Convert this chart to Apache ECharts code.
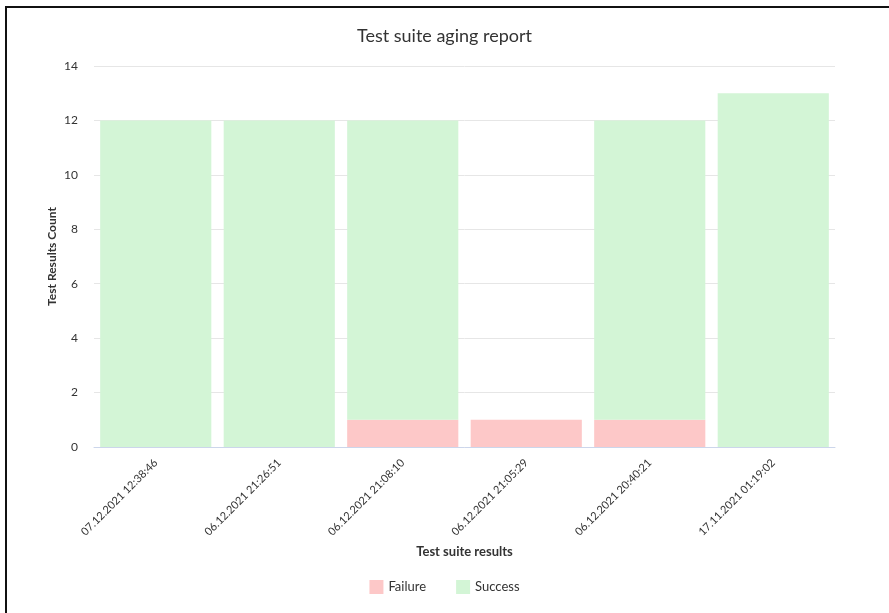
<!DOCTYPE html>
<html>
<head>
<meta charset="utf-8">
<title>Test suite aging report</title>
<script src="https://cdn.jsdelivr.net/npm/echarts@6/dist/echarts.min.js"></script>
<style>
    html, body { margin: 0; padding: 0; background: #fff; overflow: hidden; }
    .frame { position: absolute; left: 5px; top: 6px; width: 900px; height: 700px; border-left: 2px solid #111; border-top: 2px solid #111; }
    #chartDiv { position: absolute; left: 0; top: 0; width: 889px; height: 613px; }
</style>
</head>
<body>
<div class="frame"></div>
<div id="chartDiv"></div>
<script>
// 数据
var categories = ['07.12.2021 12:38:46', '06.12.2021 21:26:51', '06.12.2021 21:08:10', '06.12.2021 21:05:29', '06.12.2021 20:40:21', '17.11.2021 01:19:02'];
var failureData = [0, 0, 1, 1, 1, 0];
var successData = [12, 12, 11, 0, 11, 13];
var yTicks = [0, 2, 4, 6, 8, 10, 12, 14];

var font = 'Lato, "Open Sans", sans-serif';

var myChart = echarts.init(document.getElementById('chartDiv'));
var option = {
    animation: false,
    title: {
        text: 'Test suite aging report',
        left: 'center',
        top: 22,
        textStyle: { fontFamily: font, fontSize: 18, fontWeight: 'normal', color: '#333' }
    },
    legend: {
        bottom: 14,
        left: 'center',
        itemWidth: 14,
        itemHeight: 14,
        itemGap: 30,
        icon: 'rect',
        textStyle: { fontFamily: font, fontSize: 13, color: '#333' },
        data: ['Failure', 'Success']
    },
    grid: {
        left: 94,
        right: 54,
        top: 66,
        bottom: 166
    },
    xAxis: {
        type: 'category',
        data: categories,
        name: 'Test suite results',
        nameLocation: 'middle',
        nameGap: 98,
        nameTextStyle: { fontFamily: font, fontSize: 13, fontWeight: 'bold', color: '#333' },
        axisTick: { show: false },
        axisLine: { lineStyle: { color: '#ccd6eb' } },
        axisLabel: {
            rotate: 45,
            margin: 14,
            fontFamily: font,
            fontSize: 11,
            color: '#333'
        }
    },
    yAxis: {
        type: 'value',
        min: yTicks[0],
        max: yTicks[yTicks.length - 1],
        interval: 2,
        name: 'Test Results Count',
        nameLocation: 'middle',
        nameGap: 36,
        nameMoveOverlap: false,
        nameTextStyle: { fontFamily: font, fontSize: 12, fontWeight: 'bold', color: '#333' },
        axisLine: { show: false },
        axisTick: { show: false },
        splitLine: { lineStyle: { color: '#e6e6e6' } },
        axisLabel: { fontFamily: font, fontSize: 12, color: '#333', margin: 16 }
    },
    series: [
        {
            name: 'Failure',
            type: 'bar',
            stack: 'total',
            barCategoryGap: '10%',
            itemStyle: { color: '#fdc8c8' },
            data: failureData
        },
        {
            name: 'Success',
            type: 'bar',
            stack: 'total',
            barCategoryGap: '10%',
            itemStyle: { color: '#d3f5d6' },
            data: successData
        }
    ]
};
myChart.setOption(option);
</script>
</body>
</html>
